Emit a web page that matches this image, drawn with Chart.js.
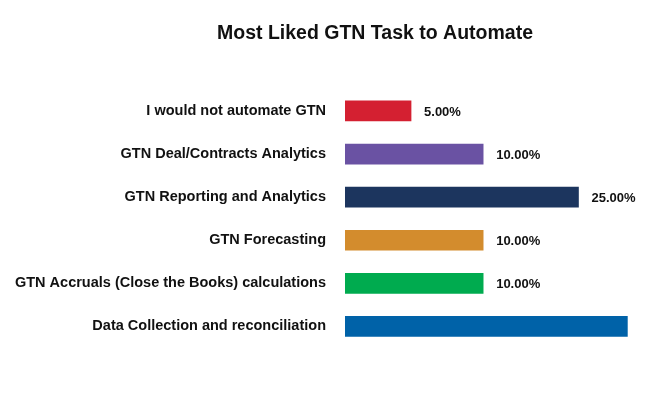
<!DOCTYPE html>
<html>
<head>
<meta charset="utf-8">
<script src="https://cdn.jsdelivr.net/npm/chart.js@4/dist/chart.umd.min.js"></script>
<style>
  html, body { margin: 0; padding: 0; background: #fff; overflow: hidden; }
  #wrap { width: 750px; height: 418px; }
</style>
</head>
<body>
<div id="wrap"><canvas id="myChart" width="750" height="418"></canvas></div>
<script>
// Categories, top to bottom as in the picture
const tasks = [
  'I would not automate GTN',
  'GTN Deal/Contracts Analytics',
  'GTN Reporting and Analytics',
  'GTN Forecasting',
  'GTN Accruals (Close the Books) calculations',
  'Data Collection and reconciliation'
];
// Share of answers (%), last one is cut off in the picture so it is estimated
const shares = [5, 10, 25, 10, 10, 40];
const barColors = ['#d42031', '#6a52a3', '#1c355e', '#d38c2d', '#00ab4f', '#0062a8'];

const fontFamily = '"Liberation Sans", Arial, Helvetica, sans-serif';

// Draws the "xx.00%" text at the end of every bar (skips what falls outside the window)
const valueLabels = {
  id: 'valueLabels',
  afterDatasetsDraw(chart) {
    const ctx = chart.ctx;
    const meta = chart.getDatasetMeta(0);
    ctx.save();
    ctx.font = 'bold 13px ' + fontFamily;
    ctx.fillStyle = '#111';
    ctx.textBaseline = 'middle';
    meta.data.forEach((bar, i) => {
      const txt = shares[i].toFixed(2) + '%';
      const x = bar.x + 13;
      if (x + ctx.measureText(txt).width > window.innerWidth) return;
      ctx.fillText(txt, x, bar.y + 1);
    });
    ctx.restore();
  }
};

window.onload = function() {
  const ctx = document.getElementById('myChart').getContext('2d');
  new Chart(ctx, {
    type: 'bar',
    data: {
      labels: tasks,
      datasets: [{
        data: shares,
        backgroundColor: barColors,
        borderWidth: 0,
        barThickness: 20
      }]
    },
    options: {
      indexAxis: 'y',
      responsive: false,
      animation: false,
      layout: { padding: { left: 0, right: 0, top: 0, bottom: 70 } },
      plugins: {
        legend: { display: false },
        tooltip: { enabled: false },
        title: {
          display: true,
          text: 'Most Liked GTN Task to Automate',
          color: '#111',
          font: { family: fontFamily, size: 19.5, weight: 'bold' },
          padding: { top: 22, bottom: 44 }
        }
      },
      scales: {
        x: {
          type: 'logarithmic',
          min: 2.65,
          max: 130,
          display: false
        },
        y: {
          grid: { display: false, drawTicks: false },
          border: { display: false },
          ticks: {
            padding: 19,
            color: '#111',
            font: { family: fontFamily, size: 14.5, weight: 'bold' }
          },
          afterFit(scale) { scale.width = 345; }
        }
      }
    },
    plugins: [valueLabels]
  });
};
</script>
</body>
</html>
